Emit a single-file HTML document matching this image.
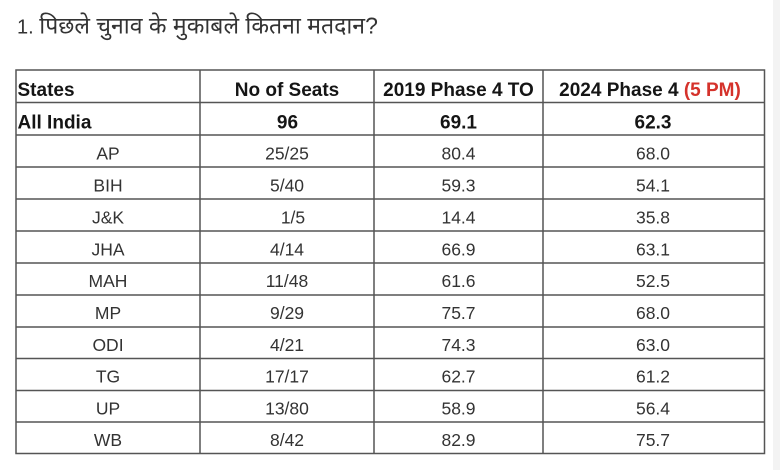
<!DOCTYPE html>
<html>
<head>
<meta charset="utf-8">
<style>
  html,body{margin:0;padding:0;background:#fff;}
  body{width:780px;height:470px;overflow:hidden;position:relative;}
  svg{position:absolute;left:0;top:0;}
  .t{font-family:"Liberation Sans","Noto Sans Devanagari","Lohit Devanagari","FreeSans",sans-serif;}
  .h{font-family:"Liberation Sans",sans-serif;font-weight:bold;font-size:19px;fill:#151515;}
  .d{font-family:"Liberation Sans",sans-serif;font-size:17.5px;fill:#333;}
</style>
</head>
<body>
<svg width="780" height="470" viewBox="0 0 780 470" xmlns="http://www.w3.org/2000/svg">
  <rect x="0" y="0" width="780" height="470" fill="#fff"/>
  <rect x="773" y="0" width="7" height="470" fill="#f3f3f3"/>
  <text class="t" x="17" y="33.5" font-size="20" fill="#333">1. <tspan font-size="23">पिछले चुनाव के मुकाबले कितना मतदान?</tspan></text>

  <g stroke="#555" stroke-width="1.5" fill="none">
    <rect x="16" y="70" width="748.5" height="383.5"/>
    <line x1="200" y1="70" x2="200" y2="453.5"/>
    <line x1="374" y1="70" x2="374" y2="453.5"/>
    <line x1="543" y1="70" x2="543" y2="453.5"/>
    <line x1="16" y1="102.5" x2="764.5" y2="102.5"/>
    <line x1="16" y1="135" x2="764.5" y2="135"/>
    <line x1="16" y1="167" x2="764.5" y2="167"/>
    <line x1="16" y1="199" x2="764.5" y2="199"/>
    <line x1="16" y1="231" x2="764.5" y2="231"/>
    <line x1="16" y1="263" x2="764.5" y2="263"/>
    <line x1="16" y1="295" x2="764.5" y2="295"/>
    <line x1="16" y1="327" x2="764.5" y2="327"/>
    <line x1="16" y1="358.5" x2="764.5" y2="358.5"/>
    <line x1="16" y1="390.5" x2="764.5" y2="390.5"/>
    <line x1="16" y1="422" x2="764.5" y2="422"/>
  </g>

  <!-- header -->
  <text class="h" x="17.5" y="96">States</text>
  <text class="h" x="287" y="96" text-anchor="middle">No of Seats</text>
  <text class="h" x="458.5" y="96" text-anchor="middle">2019 Phase 4 TO</text>
  <text class="h" x="650" y="96" text-anchor="middle">2024 Phase 4 <tspan fill="#d5322b">(5 PM)</tspan></text>

  <!-- All India -->
  <text class="h" x="17.5" y="128.5">All India</text>
  <text class="h" x="287.5" y="128.5" text-anchor="middle">96</text>
  <text class="h" x="458.5" y="128.5" text-anchor="middle">69.1</text>
  <text class="h" x="653" y="128.5" text-anchor="middle">62.3</text>

  <g class="d" text-anchor="middle">
    <text x="108" y="159.5">AP</text><text x="287" y="159.5">25/25</text><text x="458.5" y="159.5">80.4</text><text x="653" y="159.5">68.0</text>
    <text x="108" y="191.5">BIH</text><text x="287" y="191.5">5/40</text><text x="458.5" y="191.5">59.3</text><text x="653" y="191.5">54.1</text>
    <text x="108" y="223.5">J&amp;K</text><text x="293" y="223.5">1/5</text><text x="458.5" y="223.5">14.4</text><text x="653" y="223.5">35.8</text>
    <text x="108" y="255.5">JHA</text><text x="287" y="255.5">4/14</text><text x="458.5" y="255.5">66.9</text><text x="653" y="255.5">63.1</text>
    <text x="108" y="287">MAH</text><text x="287" y="287">11/48</text><text x="458.5" y="287">61.6</text><text x="653" y="287">52.5</text>
    <text x="108" y="319">MP</text><text x="287" y="319">9/29</text><text x="458.5" y="319">75.7</text><text x="653" y="319">68.0</text>
    <text x="108" y="351">ODI</text><text x="287" y="351">4/21</text><text x="458.5" y="351">74.3</text><text x="653" y="351">63.0</text>
    <text x="108" y="382.5">TG</text><text x="287" y="382.5">17/17</text><text x="458.5" y="382.5">62.7</text><text x="653" y="382.5">61.2</text>
    <text x="108" y="414.5">UP</text><text x="287" y="414.5">13/80</text><text x="458.5" y="414.5">58.9</text><text x="653" y="414.5">56.4</text>
    <text x="108" y="446">WB</text><text x="287" y="446">8/42</text><text x="458.5" y="446">82.9</text><text x="653" y="446">75.7</text>
  </g>
</svg>
</body>
</html>
